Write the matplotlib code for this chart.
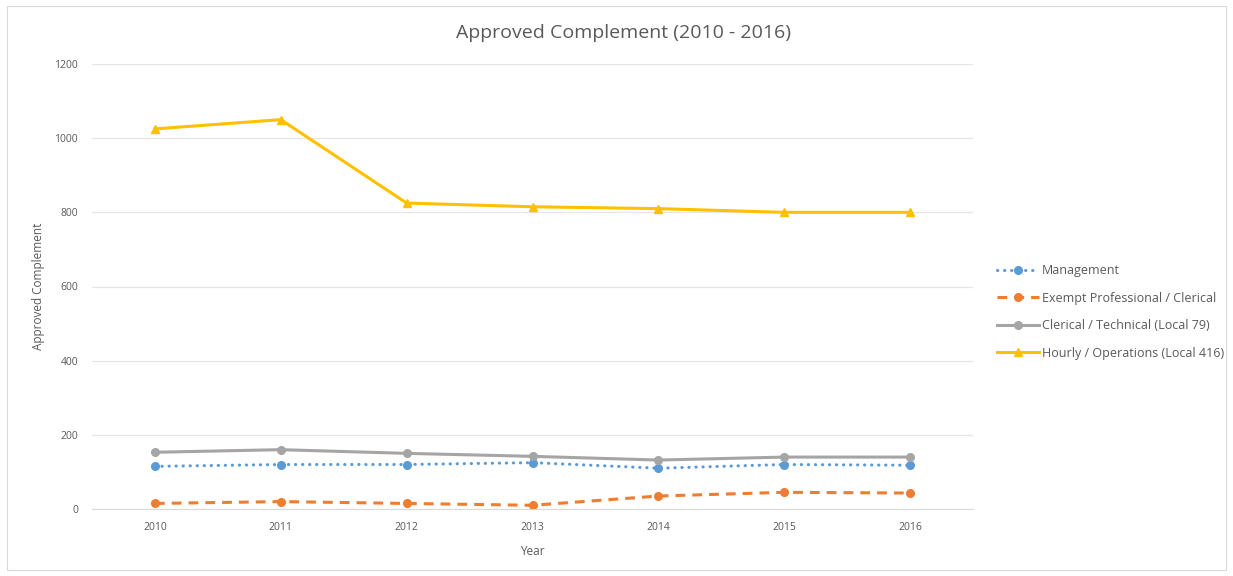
import matplotlib
matplotlib.use("Agg")
import matplotlib.pyplot as plt
from matplotlib.patches import Rectangle

years = ["2010", "2011", "2012", "2013", "2014", "2015", "2016"]
management = [115, 120, 120, 125, 110, 120, 118]
exempt = [15, 20, 15, 10, 35, 45, 43]
clerical = [153, 160, 150, 142, 132, 140, 140]
hourly = [1025, 1050, 825, 815, 810, 800, 800]
series_names = ["Management", "Exempt Professional / Clerical",
                "Clerical / Technical (Local 79)", "Hourly / Operations (Local 416)"]
yticks = [0, 200, 400, 600, 800, 1000, 1200]

plt.rcParams['font.family'] = ['Open Sans', 'DejaVu Sans']
txt = '#595959'

fig = plt.figure(figsize=(12.33, 5.76), dpi=100)
fig.patches.append(Rectangle((7/1233, 6/576), 1219/1233, 564/576, transform=fig.transFigure,
                             fill=False, edgecolor='#d9d9d9', linewidth=0.8))
ax = fig.add_axes([92/1233, 1-509/576, (973-92)/1233, (509-64)/576])

x = list(range(len(years)))
ax.plot(x, management, color='#5B9BD5', linestyle=(0, (0.1, 2.2)), linewidth=2.2,
        marker='o', markersize=5.5, label=series_names[0], dash_capstyle='round')
ax.plot(x, exempt, color='#ED7D31', linestyle=(0, (3.2, 2.3)), linewidth=2.2,
        marker='o', markersize=5.5, label=series_names[1])
ax.plot(x, clerical, color='#A5A5A5', linestyle='-', linewidth=2.2,
        marker='o', markersize=5.5, label=series_names[2])
ax.plot(x, hourly, color='#FFC000', linestyle='-', linewidth=2.2,
        marker='^', markersize=6, label=series_names[3])

ax.set_xlim(-0.5, 6.5)
ax.set_ylim(0, 1200)
ax.set_yticks(yticks)
ax.set_xticks(x)
ax.set_xticklabels(years)
ax.grid(axis='y', color='#e6e6e6', linewidth=0.9)
ax.set_axisbelow(True)
for s in ['top', 'right', 'left']:
    ax.spines[s].set_visible(False)
ax.spines['bottom'].set_color('#d9d9d9')
ax.tick_params(axis='both', length=0, labelsize=7.5, colors=txt, pad=10)
ax.tick_params(axis='x', pad=9)
ax.set_xlabel('Year', fontsize=8.5, color=txt, labelpad=9)
ax.set_ylabel('Approved Complement', fontsize=8.5, color=txt, labelpad=7)
fig.text(623/1233, 1-33/576, 'Approved Complement (2010 - 2016)', ha='center', va='center',
         fontsize=14, color=txt)

leg = ax.legend(loc='center left', bbox_to_anchor=(986/1233, 1-312/576), bbox_transform=fig.transFigure,
                frameon=False, fontsize=9, handlelength=3.3, handletextpad=0.25, labelspacing=1.15,
                labelcolor=txt)

fig.savefig('out.png', dpi=100)
